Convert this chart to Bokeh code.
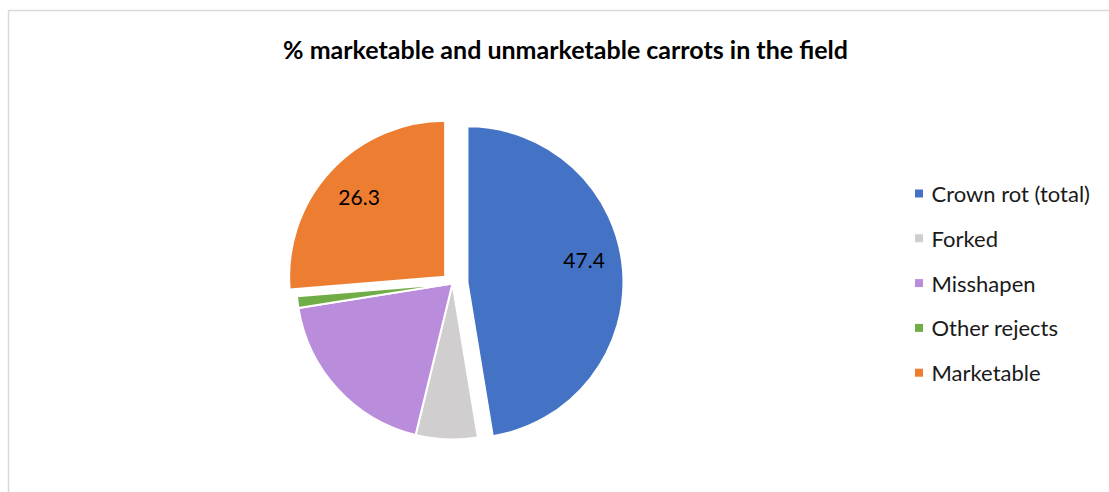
import math
from bokeh.plotting import figure
from bokeh.models import Range1d, ColumnDataSource
from bokeh.core.properties import value
from bokeh.embed import file_html
from bokeh.resources import INLINE

# ---- data ----
categories = ["Crown rot (total)", "Forked", "Misshapen", "Other rejects", "Marketable"]
values = [47.4, 6.4, 18.7, 1.2, 26.3]
data_labels = ["47.4", "", "", "", "26.3"]
colors = ["#4472C4", "#D0CECE", "#BA8CDC", "#70AD47", "#ED7D31"]
explode = [15, 0, 0, 0, 10]      # px offset of each slice
label_dy = [-12, 0, 0, 0, 0]     # px nudge of data labels

title_text = "% marketable and unmarketable carrots in the field"

W, H = 1109, 492
FONT = "Lato"

p = figure(width=W, height=H, output_backend="svg", toolbar_location=None,
           x_range=Range1d(0, W), y_range=Range1d(H, 0), min_border=0)
p.axis.visible = False
p.grid.visible = False
p.outline_line_color = None
p.background_fill_color = "white"
p.border_fill_color = "white"

# chart border (light gray)
p.line(x=[8, 8, W + 10], y=[H + 10, 10, 10], line_color="#D9D9D9", line_width=1.5)

# title
p.text(x=[565], y=[48], text=[title_text], text_font=value(FONT), text_font_style="bold",
       text_font_size="25px", text_align="center", text_baseline="middle", text_color="black")

# pie
cx, cy, r = 452, 283, 156
total = sum(values)
cum = 0.0
xs, ys, starts, ends, lx, ly, lt = [], [], [], [], [], [], []
for v, e, lab, ldy in zip(values, explode, data_labels, label_dy):
    a0 = cum / total * 2 * math.pi          # clockwise from top
    a1 = (cum + v) / total * 2 * math.pi
    cum += v
    mid = (a0 + a1) / 2
    dx, dy = math.sin(mid), -math.cos(mid)    # screen coords (y down)
    x0, y0 = cx + e * dx, cy + e * dy
    xs.append(x0); ys.append(y0)
    # bokeh wedge angles are screen angles (anticlockwise, y up)
    starts.append(math.pi / 2 - a1)
    ends.append(math.pi / 2 - a0)
    lx.append(x0 + 0.75 * r * dx)
    ly.append(y0 + 0.75 * r * dy + ldy)
    lt.append(lab)

src = ColumnDataSource(dict(x=xs, y=ys, start=starts, end=ends, color=colors))
p.wedge(x="x", y="y", radius=r, start_angle="start", end_angle="end", direction="anticlock",
        fill_color="color", line_color="white", line_width=2, source=src)

p.text(x=lx, y=ly, text=lt, text_font=value(FONT), text_font_size="21px",
       text_align="center", text_baseline="middle", text_color="black")

# legend
ly0, lstep = 193, 44.8
leg_y = [ly0 + i * lstep for i in range(len(categories))]
p.rect(x=[918.5] * len(categories), y=leg_y, width=8, height=8, fill_color=colors, line_color=None)
p.text(x=[931] * len(categories), y=leg_y, text=categories, text_font=value(FONT),
       text_font_size="22px", text_align="left", text_baseline="middle", text_color="#1a1a1a")

open("out.html", "w").write(file_html(p, INLINE))
